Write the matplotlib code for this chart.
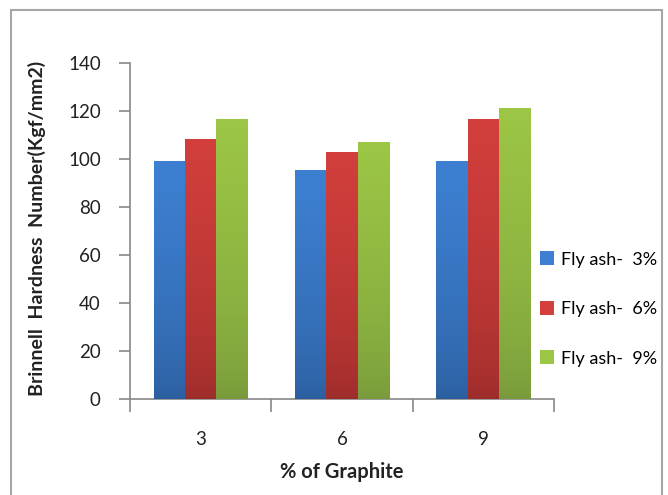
import numpy as np
import matplotlib.pyplot as plt
from matplotlib.patches import Rectangle
from matplotlib.colors import LinearSegmentedColormap

graphite = ['3', '6', '9']
series = ['Fly ash-  3%', 'Fly ash-  6%', 'Fly ash-  9%']
fly3 = [99, 95, 99]
fly6 = [108, 102.5, 116.5]
fly9 = [116.5, 107, 121]
values = [fly3, fly6, fly9]
yticks = [0, 20, 40, 60, 80, 100, 120, 140]

# (top colour, bottom colour) for the gradient on each series
shades = [('#3d80d2', '#2c5e9e'), ('#d23f3c', '#9c2c2b'), ('#9cc645', '#78993b')]

plt.rcParams['font.family'] = ['Lato', 'DejaVu Sans']

fig = plt.figure(figsize=(6.68, 4.95), dpi=100)
ax = fig.add_axes([130/668, 1 - 399.3/495, 424.3/668, 336/495])

# outer chart border (open at the bottom like the crop)
fig.patches.append(Rectangle((11/668, -0.05), 651/668, 1.05 - 10/495,
                             transform=fig.transFigure, fill=False,
                             edgecolor='#a6a6a6', linewidth=1.5))

x = np.arange(len(graphite))
w = 0.222
for i, (vals, lab, (c1, c2)) in enumerate(zip(values, series, shades)):
    bars = ax.bar(x + (i - 1) * w, vals, w, color=c1, label=lab, zorder=2)
    cmap = LinearSegmentedColormap.from_list('g%d' % i, [c2, c1])
    grad = np.linspace(0, 1, 100).reshape(-1, 1) ** 0.6
    for b in bars:
        bx, by = b.get_x(), b.get_y()
        bw, bh = b.get_width(), b.get_height()
        ax.imshow(grad, cmap=cmap, origin='lower', aspect='auto',
                  extent=(bx, bx + bw, by, by + bh), zorder=3)

ax.set_xlim(-0.5, 2.5)
ax.set_ylim(0, 140)
ax.set_yticks(yticks)
ax.set_xticks(x)
ax.set_xticklabels(graphite)
ax.set_xticks([-0.5, 0.5, 1.5, 2.5], minor=True)
ax.tick_params(axis='x', which='major', length=0, pad=23, labelsize=13.5, colors='#222222')
ax.tick_params(axis='x', which='minor', length=9, width=1.2, color='#888888', direction='out')
ax.tick_params(axis='y', length=8, width=1.2, color='#888888', pad=13,
               labelsize=13.5, labelcolor='#222222')

for s in ['top', 'right']:
    ax.spines[s].set_visible(False)
for s in ['left', 'bottom']:
    ax.spines[s].set_color('#888888')
    ax.spines[s].set_linewidth(1.2)

ax.set_xlabel('% of Graphite', fontsize=14.5, fontweight='bold', color='#222222', labelpad=10)
fig.text(37/668, 1 - 228/495, 'Brinnell  Hardness  Number(Kgf/mm2)', rotation=90,
         ha='center', va='center', fontsize=14, fontweight='bold', color='#222222')

fig.legend(loc='center left', bbox_to_anchor=(531/668, 1 - 309/495), frameon=False,
           fontsize=13, handlelength=0.8, handleheight=0.8, handletextpad=0.35,
           labelspacing=1.85, borderpad=0)

fig.savefig('out.png', dpi=100)
